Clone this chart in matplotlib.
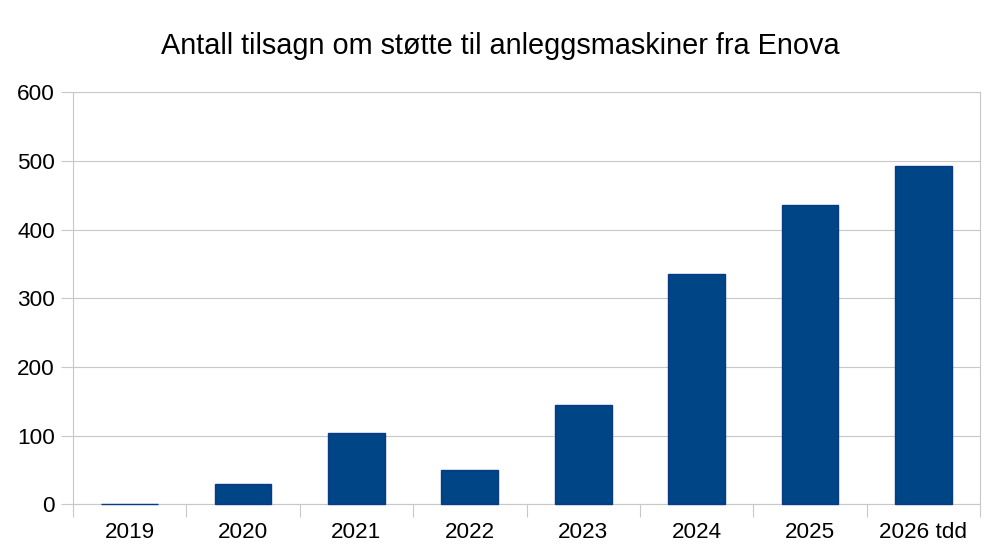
import matplotlib
matplotlib.use('Agg')
import matplotlib.pyplot as plt
import numpy as np

# data
years = ['2019', '2020', '2021', '2022', '2023', '2024', '2025', '2026 tdd']
tilsagn = [1, 29, 104, 50, 145, 336, 436, 492]
yticks = [0, 100, 200, 300, 400, 500, 600]

plt.rcParams['font.family'] = ['Liberation Sans', 'DejaVu Sans']

fig = plt.figure(figsize=(10, 5.56), dpi=100)
ax = fig.add_axes([0.073, 0.093, 0.907, 0.741])

x = np.arange(len(years))
ax.bar(x, tilsagn, width=0.5, color='#004586', edgecolor='#0a3a86', linewidth=1.0,
       zorder=3, clip_on=False)

grid_col = '#c8c8c8'
ax.set_xlim(-0.5, len(years) - 0.5)
ax.set_ylim(0, 600)
ax.set_yticks(yticks)
ax.set_xticks(x)
ax.set_xticklabels(years)
ax.set_xticks(np.arange(-0.5, len(years)), minor=True)

ax.yaxis.grid(True, color=grid_col, linewidth=0.8, zorder=0)
ax.tick_params(axis='y', length=9, width=0.8, color=grid_col, labelsize=16.2, pad=4)
ax.tick_params(axis='x', which='major', length=0, labelsize=16.2, pad=13)
ax.tick_params(axis='x', which='minor', length=9, width=0.8, color=grid_col)

for s in ax.spines.values():
    s.set_color(grid_col)
    s.set_linewidth(0.8)
    s.set_zorder(1)

fig.text(0.5, 0.918, 'Antall tilsagn om støtte til anleggsmaskiner fra Enova',
         ha='center', va='center', fontsize=20.8)

plt.savefig('out.png', dpi=100)
